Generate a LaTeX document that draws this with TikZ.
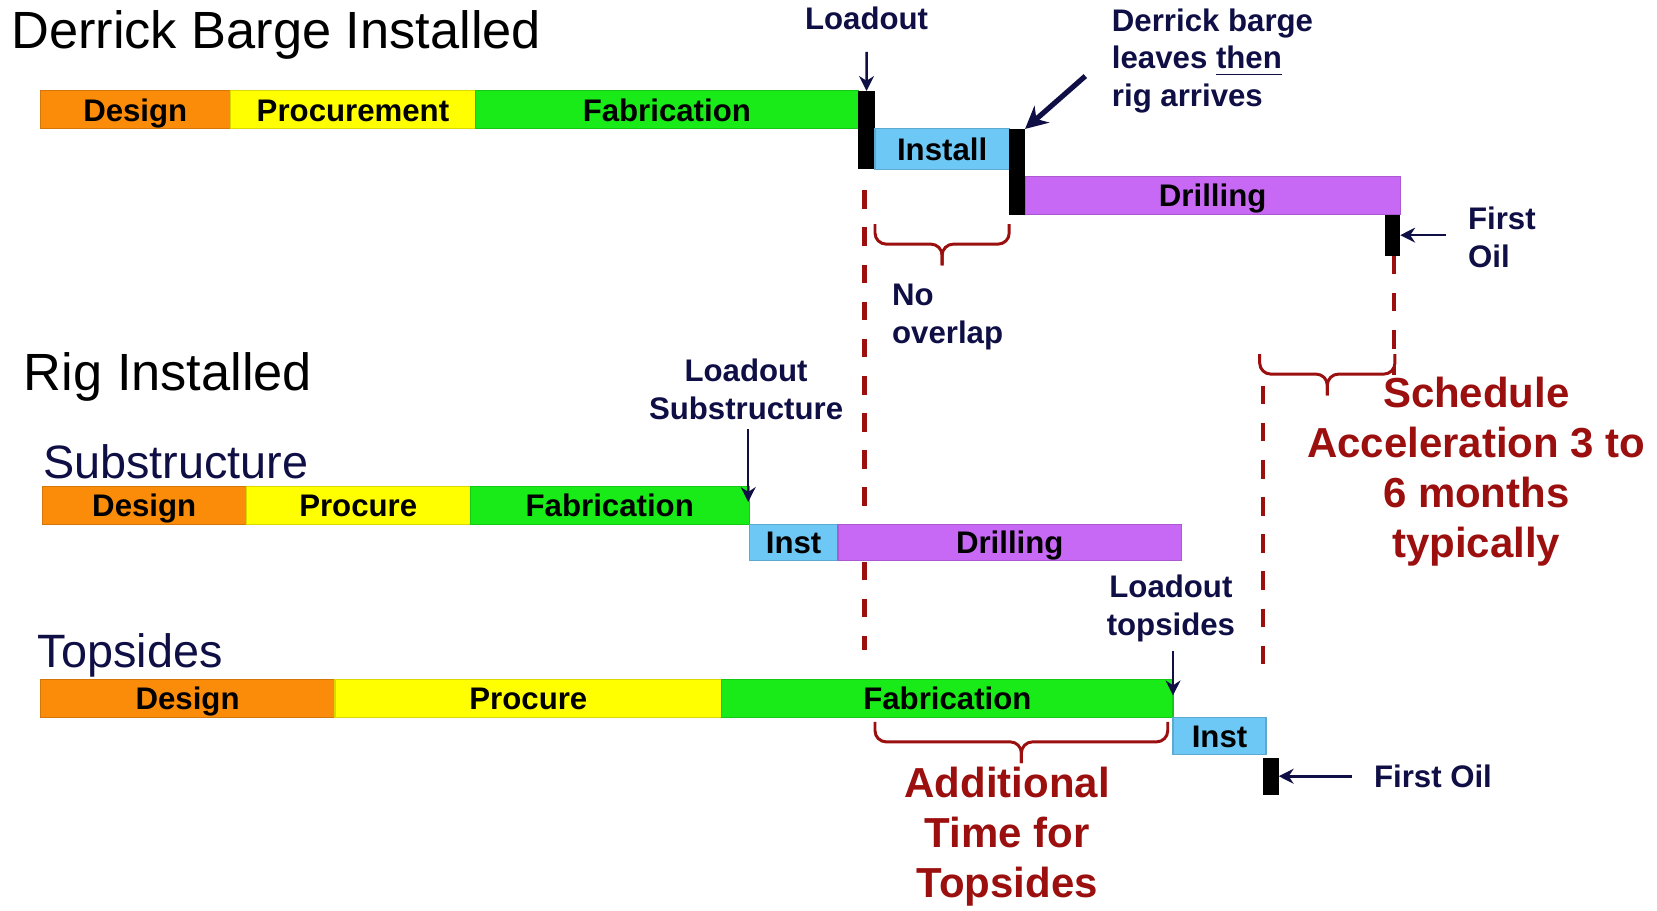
\documentclass[tikz,border=0pt]{standalone}
\usepackage{fontspec}
\setmainfont{Liberation Sans}
\usetikzlibrary{arrows.meta, positioning}
\definecolor{designorange}{RGB}{250, 140, 10}
\definecolor{procyellow}{RGB}{255, 255, 0}
\definecolor{fabgreen}{RGB}{25, 235, 25}
\definecolor{instblue}{RGB}{110, 200, 245}
\definecolor{drillviolet}{RGB}{200, 105, 245}
\definecolor{navytext}{RGB}{15, 15, 70}
\definecolor{darkred}{RGB}{155, 15, 15}

\tikzset{
  heading/.style={anchor=west, inner sep=0pt, font=\fontsize{14.1}{16}\selectfont},
  subheading/.style={anchor=west, inner sep=0pt, navytext, font=\fontsize{12.6}{15}\selectfont},
  phase/.style={fill=#1, draw=#1!85!black, line width=0.3pt, anchor=north west, inner sep=0pt, outer sep=0pt,
    minimum height=0.36cm, text height=7.5pt, text depth=1.5pt, font=\fontsize{8.4}{10}\selectfont\bfseries},
  milestone/.style={fill=black, anchor=north west, inner sep=0pt, outer sep=0pt},
  note/.style={inner sep=1pt, navytext, font=\fontsize{8.4}{10.1}\selectfont\bfseries},
  remark/.style={align=center, inner sep=0pt, darkred, font=\fontsize{11.3}{13.5}\selectfont\bfseries},
  pointer/.style={-{Stealth[length=4pt, width=4pt]}, navytext, line width=0.7pt},
  guide/.style={darkred, line width=1.2pt, dash pattern=on 5pt off 5pt},
  bracket/.style={darkred, line width=0.8pt, rounded corners=3pt}
}
% downward brace: left x, right x, top y
\newcommand{\downbrace}[3]{%
  \draw[bracket] (#1,#3) |- ({(#1+#2)/2},#3-0.19) -- ({(#1+#2)/2},#3-0.39);
  \draw[bracket] (#2,#3) |- ({(#1+#2)/2},#3-0.19) -- ({(#1+#2)/2},#3-0.39);}

\begin{document}
\begin{tikzpicture}
  \fill[white] (0,0) rectangle (15.68,-8.62);
  \useasboundingbox (0,0) rectangle (15.68,-8.62);

  % dashed guides (behind the bars)
  \draw[guide] (8.18,-1.80) -- (8.18,-6.15);
  \draw[guide] (13.19,-2.42) -- (13.19,-3.55);
  \draw[guide] (11.95,-3.65) -- (11.95,-6.45);

  % derrick barge installed
  \node[heading] (dbtitle) at (0.10,-0.33) {Derrick Barge Installed};
  \node[phase=designorange, minimum width=1.80cm] (dbdesign) at (0.38,-0.86) {Design};
  \node[phase=procyellow, minimum width=2.32cm, right=0pt of dbdesign] (dbproc) {Procurement};
  \node[phase=fabgreen, minimum width=3.62cm, right=0pt of dbproc] (dbfab) {Fabrication};
  \node[milestone, minimum width=0.16cm, minimum height=0.74cm] (dbload) at (dbfab.north east) {};
  \node[phase=instblue, minimum width=1.27cm, minimum height=0.38cm] (dbinst) at (dbfab.south -| dbload.east) {Install};
  \node[milestone, minimum width=0.15cm, minimum height=0.81cm] (dbrig) at (dbinst.north east) {};
  \node[phase=drillviolet, minimum width=3.55cm, anchor=south west] (dbdrill) at (dbrig.south east) {Drilling};
  \node[milestone, minimum width=0.14cm, minimum height=0.39cm, anchor=north east] (dbfirst) at (dbdrill.south east) {};

  \node[note] (dbloadlbl) at (8.20,-0.17) {Loadout};
  \draw[pointer, shorten <=0.17cm] (dbloadlbl) -- (dbload.north);

  \node[note, align=left, anchor=west] (rignote) at (10.48,-0.575) {Derrick barge\\leaves \underline{then}\\rig arrives};
  \coordinate (rigtail) at (10.27,-0.72);
  \draw[pointer, line width=1.4pt, -{Stealth[length=6pt, width=6pt]}] (rigtail) -- (dbrig.north east);

  \node[note, align=left, anchor=west] (dboil) at (13.85,-2.245) {First\\Oil};
  \draw[pointer, shorten <=0.17cm] (dboil.west |- dbfirst.east) -- (dbfirst.east);

  \downbrace{8.28}{9.55}{-2.12}
  \node[note, align=left, anchor=west] (nooverlap) at (8.40,-3.00) {No\\overlap};

  % rig installed
  \node[heading] (rigtitle) at (0.22,-3.57) {Rig Installed};

  \node[subheading] (subtitle) at (0.40,-4.37) {Substructure};
  \node[phase=designorange, minimum width=1.93cm] (subdesign) at (0.40,-4.60) {Design};
  \node[phase=procyellow, minimum width=2.12cm, right=0pt of subdesign] (subproc) {Procure};
  \node[phase=fabgreen, minimum width=2.64cm, right=0pt of subproc] (subfab) {Fabrication};
  \node[phase=instblue, minimum width=0.84cm, minimum height=0.34cm] (subinst) at (subfab.south east) {Inst};
  \node[phase=drillviolet, minimum width=3.25cm, minimum height=0.34cm, right=0pt of subinst] (subdrill) {Drilling};

  \node[note, align=center] (subloadlbl) at (7.06,-3.685) {Loadout\\Substructure};
  \coordinate (subtip) at (7.08,-4.75);
  \draw[pointer, shorten <=0.05cm] (subloadlbl.south -| subtip) -- (subtip);

  \node[subheading] (toptitle) at (0.35,-6.20) {Topsides};
  \node[phase=designorange, minimum width=2.79cm] (topdesign) at (0.38,-6.43) {Design};
  \node[phase=procyellow, minimum width=3.66cm, right=0pt of topdesign] (topproc) {Procure};
  \node[phase=fabgreen, minimum width=4.27cm, right=0pt of topproc] (topfab) {Fabrication};
  \node[phase=instblue, minimum width=0.88cm, minimum height=0.35cm] (topinst) at (topfab.south east) {Inst};
  \node[milestone, minimum width=0.15cm, minimum height=0.35cm] (topfirst) at (11.95,-7.17) {};

  \node[note, align=center] (toploadlbl) at (11.08,-5.755) {Loadout\\topsides};
  \coordinate (toptip) at (11.10,-6.58);
  \draw[pointer, shorten <=0.05cm] (toploadlbl.south -| toptip) -- (toptip);

  \node[note, anchor=west] (topoil) at (12.96,-7.345) {First Oil};
  \draw[pointer, shorten <=0.17cm] (topoil.west |- topfirst.east) -- (topfirst.east);

  % what the comparison shows
  \downbrace{11.92}{13.20}{-3.35}
  \node[remark] (accel) at (13.97,-4.465) {Schedule\\Acceleration 3 to\\6 months\\typically};

  \downbrace{8.28}{11.05}{-6.83}
  \node[remark] (addtime) at (9.53,-7.915) {Additional\\Time for\\Topsides};
\end{tikzpicture}
\end{document}
